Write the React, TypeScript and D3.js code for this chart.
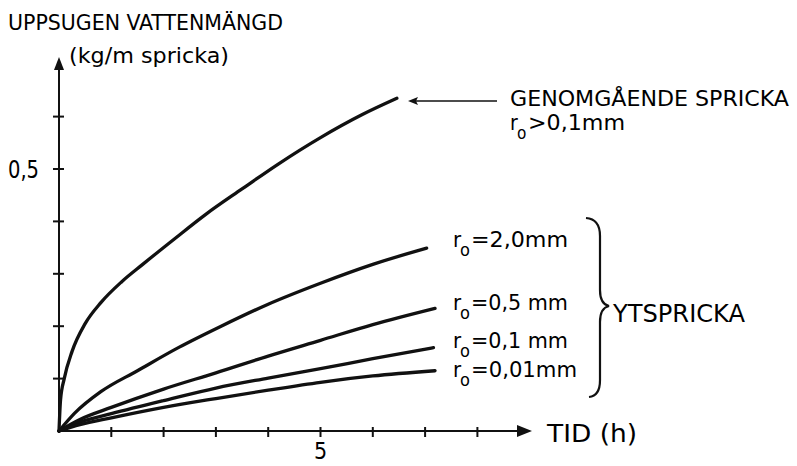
import React from "react";
import * as d3 from "d3";

// ---- data (time in hours, absorbed water in kg/m crack) ----
const throughCrack: [number, number][] = [
  [0, 0], [0.03, 0.06], [0.1, 0.1], [0.25, 0.152], [0.5, 0.205], [0.8, 0.245], [1.2, 0.285],
  [1.6, 0.318], [2.2, 0.366], [2.8, 0.413], [3.5, 0.462], [4.2, 0.51], [5.0, 0.56], [5.8, 0.604], [6.46, 0.635],
];
const r20: [number, number][] = [
  [0, 0], [0.3, 0.034], [0.8, 0.075], [1.5, 0.115], [2.3, 0.16], [3.1, 0.2], [4.0, 0.242],
  [5.0, 0.282], [6.0, 0.318], [7.03, 0.349],
];
const r05: [number, number][] = [
  [0, 0], [0.4, 0.022], [1, 0.045], [2, 0.08], [3, 0.111], [4, 0.143], [5, 0.173], [6, 0.203], [7.19, 0.234],
];
const r01: [number, number][] = [
  [0, 0], [0.4, 0.017], [1, 0.033], [2, 0.058], [3, 0.082], [4, 0.101], [5, 0.119], [6, 0.138], [7.16, 0.159],
];
const r001: [number, number][] = [
  [0, 0], [0.4, 0.012], [1, 0.025], [2, 0.045], [3, 0.062], [4, 0.078], [5, 0.093], [6, 0.105], [7.19, 0.115],
];
const seriesList = [throughCrack, r20, r05, r01, r001];

const xTicks = [1, 2, 3, 4, 5, 6, 7, 8];
const yTicks = [0.1, 0.2, 0.3, 0.4, 0.5, 0.6];
const xTickLabels: [number, string][] = [[5, "5"]];
const yTickLabels: [number, string][] = [[0.5, "0,5"]];

const yTitle = "UPPSUGEN VATTENMÄNGD";
const yUnit = "(kg/m spricka)";
const xTitle = "TID (h)";
const throughTitle = "GENOMGÅENDE SPRICKA";
const throughSub = ">0,1mm";
const surfaceLabels = ["=2,0mm", "=0,5 mm", "=0,1 mm", "=0,01mm"];
const surfaceTitle = "YTSPRICKA";

// ---- layout ----
const W = 797, H = 466;
const X0 = 59, Y0 = 431;
const FONT = "'DejaVu Sans Condensed', 'DejaVu Sans', 'Liberation Sans', sans-serif";

export default function App() {
  const x = d3.scaleLinear().domain([0, 8]).range([X0, X0 + 8 * 52.3]);
  const y = d3.scaleLinear().domain([0, 0.6]).range([Y0, Y0 - 0.6 * 524]);
  const line = d3
    .line<[number, number]>()
    .x((d) => x(d[0]))
    .y((d) => y(d[1]))
    .curve(d3.curveMonotoneX);

  const xEnd = 532, yEnd = 57;
  const surfBaselines = [247, 310, 348, 377];

  const rLabel = (xx: number, yy: number, rest: string, len: number, key: string | number, fs = 22) => (
    <g key={key}>
      <text x={xx} y={yy} fontSize={fs} fontFamily={FONT}>r</text>
      <text x={xx + 7} y={yy + 9} fontSize={fs - 4} fontFamily={FONT}>o</text>
      <text x={xx + 18} y={yy} fontSize={fs} fontFamily={FONT} textLength={len} lengthAdjust="spacingAndGlyphs">{rest}</text>
    </g>
  );

  return (
    <svg width={W} height={H} style={{ position: "absolute", left: 0, top: 0, background: "#fff" }}>
      <rect width={W} height={H} fill="#fff" />
      {/* axes */}
      <line x1={X0} y1={Y0} x2={xEnd - 12} y2={Y0} stroke="#111" strokeWidth={2} />
      <path d={`M${xEnd},${Y0} L${xEnd - 15},${Y0 - 6} L${xEnd - 15},${Y0 + 6} Z`} fill="#111" />
      <line x1={X0} y1={Y0} x2={X0} y2={yEnd + 10} stroke="#111" strokeWidth={2} />
      <path d={`M${X0},${yEnd} L${X0 - 5},${yEnd + 13} L${X0 + 5},${yEnd + 13} Z`} fill="#111" />
      {xTicks.map((t) => (
        <line key={t} x1={x(t)} x2={x(t)} y1={Y0 - 4} y2={Y0 + 6} stroke="#111" strokeWidth={2} />
      ))}
      {yTicks.map((t) => (
        <line key={t} x1={X0 - 6} x2={X0 + 5} y1={y(t)} y2={y(t)} stroke="#111" strokeWidth={2} />
      ))}
      {xTickLabels.map(([t, s]) => (
        <text key={s} x={x(t)} y={459} fontSize={23} fontFamily={FONT} textAnchor="middle">{s}</text>
      ))}
      {yTickLabels.map(([t, s]) => (
        <text key={s} x={8} y={y(t) + 9} fontSize={24} fontFamily={FONT} textLength={31} lengthAdjust="spacingAndGlyphs">{s}</text>
      ))}
      {/* titles */}
      <text x={8} y={30} fontSize={22} fontFamily={FONT} textLength={275} lengthAdjust="spacingAndGlyphs">{yTitle}</text>
      <text x={69} y={63} fontSize={22} fontFamily={FONT} textLength={160} lengthAdjust="spacingAndGlyphs">{yUnit}</text>
      <text x={547} y={442} fontSize={25} fontFamily={FONT} textLength={90} lengthAdjust="spacingAndGlyphs">{xTitle}</text>

      {/* curves */}
      {seriesList.map((s, i) => (
        <path key={i} d={line(s) || ""} fill="none" stroke="#111" strokeWidth={3.3} strokeLinecap="round" />
      ))}

      {/* through-crack annotation */}
      <line x1={497} y1={101} x2={414} y2={101} stroke="#111" strokeWidth={1.6} />
      <path d="M408,101 L418,97 L416,101 L418,105 Z" fill="#111" />
      <text x={510} y={106} fontSize={22} fontFamily={FONT} textLength={279} lengthAdjust="spacingAndGlyphs">{throughTitle}</text>
      {rLabel(510, 130, throughSub, 97, "t", 21)}

      {/* surface crack labels */}
      {surfaceLabels.map((s, i) => rLabel(453, surfBaselines[i], s, i === 3 ? 106 : 97, i))}
      <path
        d="M586,218 Q600,219 600,236 L600,290 Q600,304 609,306 Q600,308 600,322 L600,380 Q600,396 589,397"
        fill="none" stroke="#111" strokeWidth={2.2}
      />
      <text x={613} y={322} fontSize={25} fontFamily={FONT} textLength={132} lengthAdjust="spacingAndGlyphs">{surfaceTitle}</text>
    </svg>
  );
}
